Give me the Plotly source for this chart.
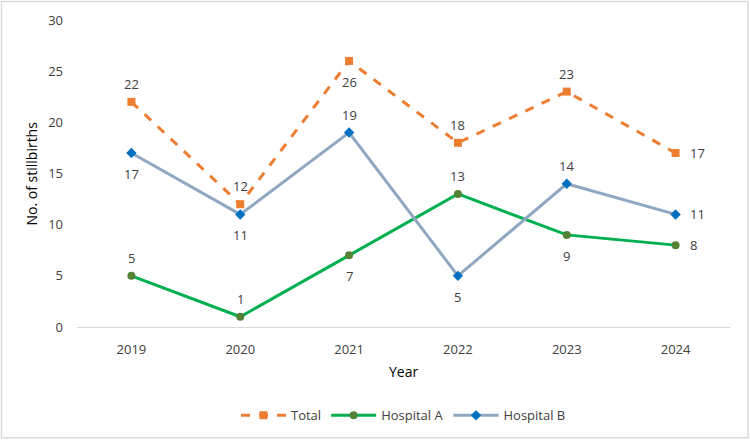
import plotly.graph_objects as go

years = ["2019", "2020", "2021", "2022", "2023", "2024"]
total = [22, 12, 26, 18, 23, 17]
hospital_a = [5, 1, 7, 13, 9, 8]
hospital_b = [17, 11, 19, 5, 14, 11]

pos_total = ["top", "top", "bottom", "top", "top", "right"]
pos_a = ["top", "top", "bottom", "top", "bottom", "right"]
pos_b = ["bottom", "bottom", "top", "bottom", "top", "right"]

FONT = "Open Sans, Liberation Sans, sans-serif"
TXT = "#404040"

fig = go.Figure()
fig.add_trace(go.Scatter(
    x=years, y=total, name="Total", mode="lines+markers",
    line=dict(color="#ED7D31", width=3, dash="dash"),
    marker=dict(symbol="square", size=8, color="#ED7D31"), cliponaxis=False))
fig.add_trace(go.Scatter(
    x=years, y=hospital_a, name="Hospital A", mode="lines+markers",
    line=dict(color="#00B050", width=3),
    marker=dict(symbol="circle", size=8, color="#548235"), cliponaxis=False))
fig.add_trace(go.Scatter(
    x=years, y=hospital_b, name="Hospital B", mode="lines+markers",
    line=dict(color="#8FA7C1", width=3),
    marker=dict(symbol="diamond", size=8, color="#0070C0"), cliponaxis=False))

annots = []
for vals, poss in [(total, pos_total), (hospital_a, pos_a), (hospital_b, pos_b)]:
    for i, (yv, p) in enumerate(zip(vals, poss)):
        a = dict(x=i, y=yv, xref="x", yref="y", text=str(yv), showarrow=False,
                 font=dict(size=13, color=TXT, family=FONT))
        if p == "top":
            a.update(xanchor="center", yanchor="middle", yshift=18)
        elif p == "bottom":
            a.update(xanchor="center", yanchor="middle", yshift=-21)
        else:
            a.update(xanchor="left", yanchor="middle", xshift=12)
        annots.append(a)

L, R, T, B = 77, 20, 20, 114
W, H = 750, 443
pw, ph = W - L - R, H - T - B

annots += [
    dict(text="Year", xref="paper", yref="paper", x=0.5, y=-(374 - (H - B)) / ph,
         showarrow=False, xanchor="center", yanchor="middle",
         font=dict(size=14, color="#000000", family=FONT)),
    dict(text="No. of stillbirths", xref="paper", yref="paper",
         x=-(L - 31) / pw, y=0.5, textangle=-90, showarrow=False,
         xanchor="center", yanchor="middle",
         font=dict(size=14, color="#000000", family=FONT)),
]

fig.update_layout(
    width=W, height=H,
    margin=dict(l=L, r=R, t=T, b=B),
    paper_bgcolor="white", plot_bgcolor="white",
    font=dict(family=FONT, color=TXT, size=13),
    showlegend=True,
    legend=dict(orientation="h", x=0.5, xanchor="center",
                y=-(418 - (H - B)) / ph, yanchor="middle",
                font=dict(size=13, color=TXT, family=FONT),
                itemwidth=45, tracegroupgap=0),
    xaxis=dict(type="category", range=[-0.5, 5.5], showgrid=False, showline=True,
               linecolor="#D9D9D9", linewidth=1, ticks="",
               tickfont=dict(size=13, color=TXT), zeroline=False, ticklabelstandoff=10),
    yaxis=dict(range=[0, 30], dtick=5, showgrid=False, showline=False, zeroline=False,
               ticks="", tickfont=dict(size=13, color=TXT), ticklabelstandoff=13),
    annotations=annots,
    shapes=[dict(type="rect", xref="paper", yref="paper",
                 x0=-(L - 1.5) / pw, x1=1 + (R - 2) / pw,
                 y0=-(B - 2.5) / ph, y1=1 + (T - 1.5) / ph,
                 line=dict(color="#D9D9D9", width=1.5), layer="below")],
)

fig.write_html("out.html")
